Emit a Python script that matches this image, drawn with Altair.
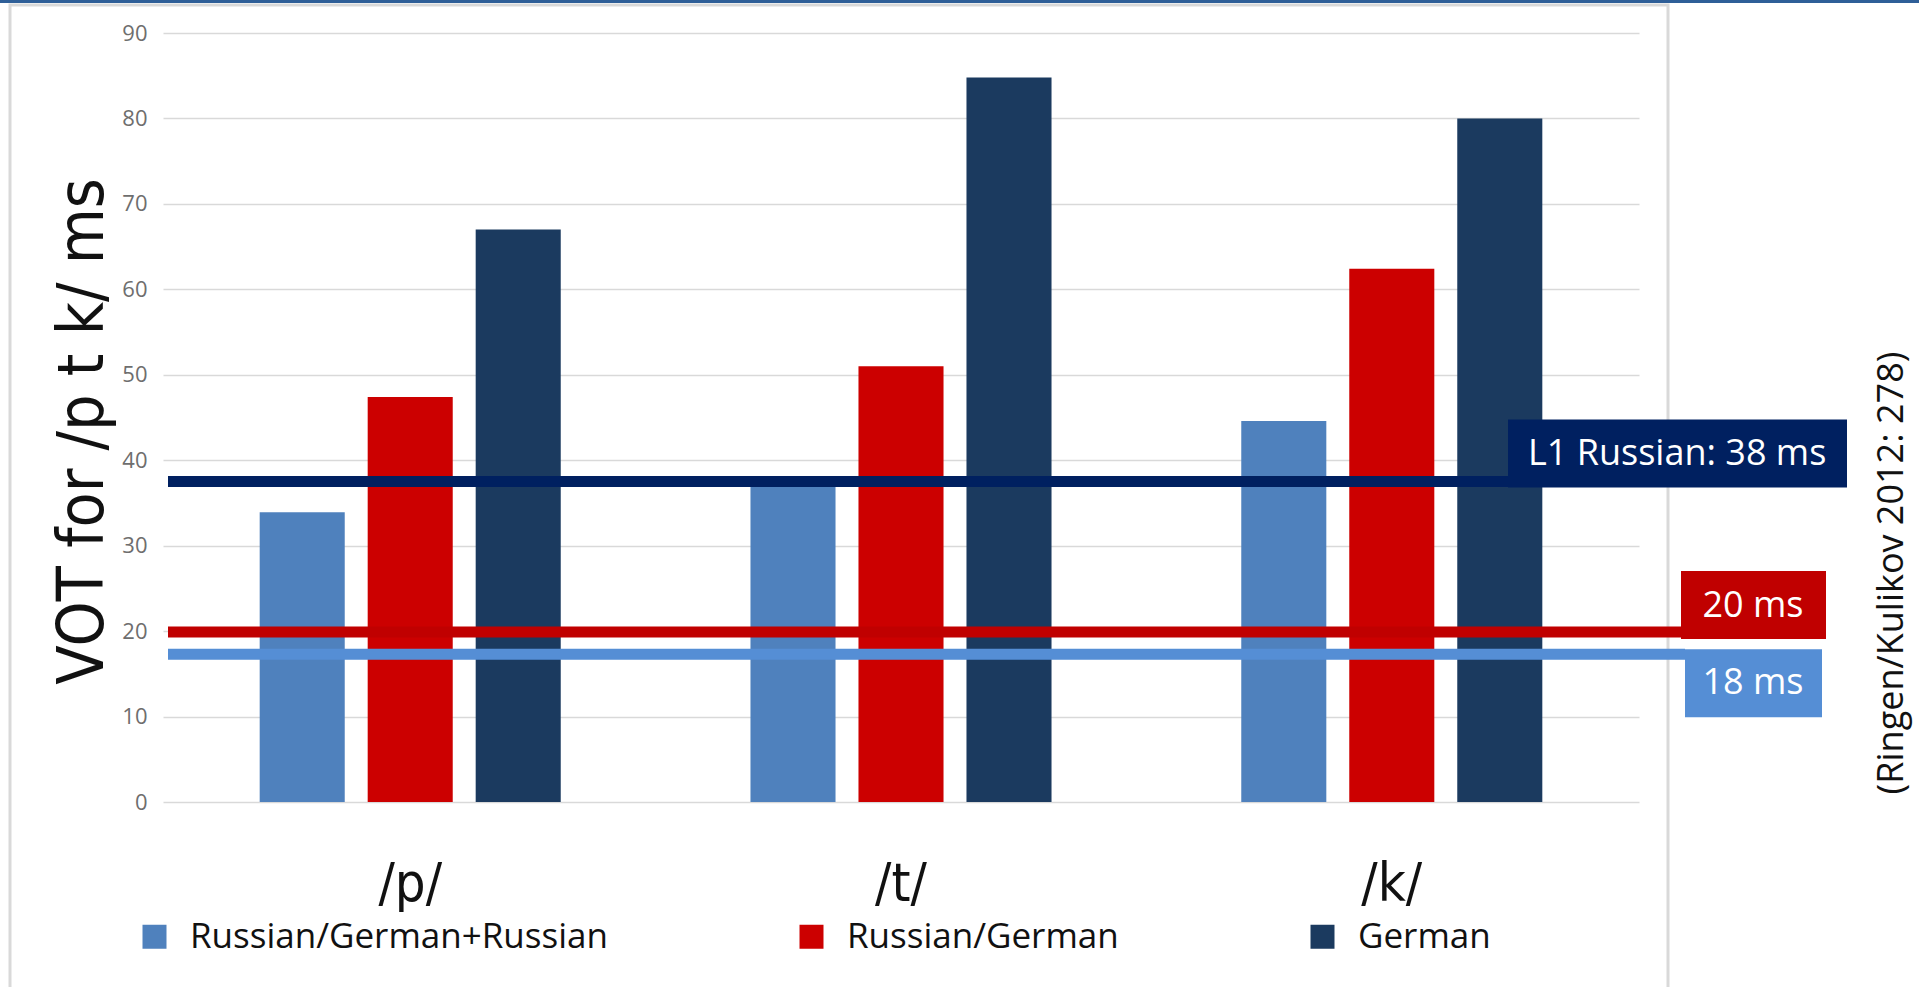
import altair as alt
import pandas as pd

# ---- data ----
phonemes = ["/p/", "/t/", "/k/"]
groups = ["Russian/German+Russian", "Russian/German", "German"]
vot_rgr = [33.9, 37.5, 44.6]      # Russian/German+Russian
vot_rg = [47.4, 51.0, 62.4]       # Russian/German
vot_g = [67.0, 84.8, 80.0]        # German

ref_values = [37.5, 19.9, 17.3]
ref_labels = ["L1 Russian: 38 ms", "20 ms", "18 ms"]
source_note = "(Ringen/Kulikov 2012: 278)"
y_ticks = [0, 10, 20, 30, 40, 50, 60, 70, 80, 90]

bar_colors = ["#4F81BD", "#CC0000", "#1B3A5F"]
ref_colors = ["#002060", "#C00000", "#558ED5"]

rows = []
for g, vals in zip(groups, [vot_rgr, vot_rg, vot_g]):
    for p, v in zip(phonemes, vals):
        rows.append({"phoneme": p, "group": g, "vot": v})
bars_df = pd.DataFrame(rows)
ref_df = pd.DataFrame({"val": ref_values, "label": ref_labels, "idx": [0, 1, 2]})

W, H = 1476, 769
PL, PT = 163, 33
TXT = "Open Sans"
COND = "Liberation Sans Narrow, DejaVu Sans Condensed, Lato"

yscale = alt.Scale(domain=[0, 90], nice=False, zero=True)

bars = alt.Chart(bars_df).mark_bar().encode(
    x=alt.X("phoneme:N", sort=phonemes,
            scale=alt.Scale(paddingInner=0.3866, paddingOuter=0.197),
            axis=alt.Axis(title=None, labelAngle=0, labelFont=COND, labelFontSize=54,
                          labelColor="#111111", labelPadding=55, domain=False, ticks=False,
                          grid=False)),
    xOffset=alt.XOffset("group:N", sort=groups,
                        scale=alt.Scale(paddingInner=0.2125, paddingOuter=0)),
    y=alt.Y("vot:Q", scale=yscale,
            axis=alt.Axis(title="VOT for /p t k/ ms", values=y_ticks, domain=False, ticks=False,
                          grid=True, gridColor="#D9D9D9", gridWidth=1.5,
                          labelFont=TXT, labelFontSize=22, labelColor="#6E6E6E", labelPadding=16,
                          titleFont=COND, titleFontSize=64, titleFontWeight="normal",
                          titleColor="#111111", titleAngle=270, titleX=-80, titleY=398,
                          titleAlign="center", titleBaseline="middle")),
    color=alt.Color("group:N", sort=groups,
                    scale=alt.Scale(domain=groups, range=bar_colors),
                    legend=alt.Legend(title=None, orient="none", direction="horizontal",
                                      legendX=-26, legendY=886, symbolType="square",
                                      symbolSize=576, symbolStrokeWidth=0, symbolOpacity=1,
                                      labelFont=TXT, labelFontSize=35, labelColor="#111111",
                                      labelLimit=600, columnPadding=186, labelOffset=18)),
)

layers = [bars]

line_end = [1345, 1518, 1522]
box_x = [(1345, 1684), (1518, 1663), (1522, 1659)]
box_dy = [-28, -27, 29]
text_x = [1365, 1590, 1590]
text_align = ["left", "center", "center"]
text_dy = [-17, -15, 40]

for i in range(3):
    sub = alt.Chart(ref_df).transform_filter(alt.datum.idx == i)
    layers.append(sub.mark_rule(strokeWidth=11, color=ref_colors[i]).encode(
        x=alt.value(5), x2=alt.value(line_end[i]), y=alt.Y("val:Q", scale=yscale)))
    layers.append(sub.mark_rect(color=ref_colors[i], height=68, yOffset=box_dy[i]).encode(
        x=alt.value(box_x[i][0]), x2=alt.value(box_x[i][1]), y=alt.Y("val:Q", scale=yscale)))
    layers.append(sub.mark_text(color="white", font=TXT, fontSize=36, align=text_align[i],
                                baseline="alphabetic", dy=text_dy[i]).encode(
        x=alt.value(text_x[i]), y=alt.Y("val:Q", scale=yscale), text="label:N"))

note = alt.Chart(pd.DataFrame({"t": [source_note]})).mark_text(
    font=TXT, fontSize=36, angle=270, align="center", baseline="middle", color="#111111"
).encode(x=alt.value(1729), y=alt.value(540), text="t:N")
layers.append(note)

# slide decoration: thin top band and light frame
deco = pd.DataFrame({"k": [0]})
topbar = alt.Chart(deco).mark_rect(color="#2F5F98").encode(
    x=alt.value(-PL), x2=alt.value(1919 - PL), y=alt.value(-PT), y2=alt.value(-PT + 3))
frame = alt.Chart(deco).mark_rect(fill=None, stroke="#D9D9D9", strokeWidth=3).encode(
    x=alt.value(10 - PL), x2=alt.value(1668 - PL), y=alt.value(5 - PT), y2=alt.value(1000 - PT))
layers = [frame, topbar] + layers

chart = alt.layer(*layers).properties(
    width=W, height=H,
    autosize=alt.AutoSizeParams(type="none"),
    padding={"left": PL, "top": PT, "right": 1919 - PL - W, "bottom": 987 - PT - H},
    background="white",
).configure_view(stroke=None)

chart.save("out.html", embed_options={"renderer": "svg", "actions": False})
